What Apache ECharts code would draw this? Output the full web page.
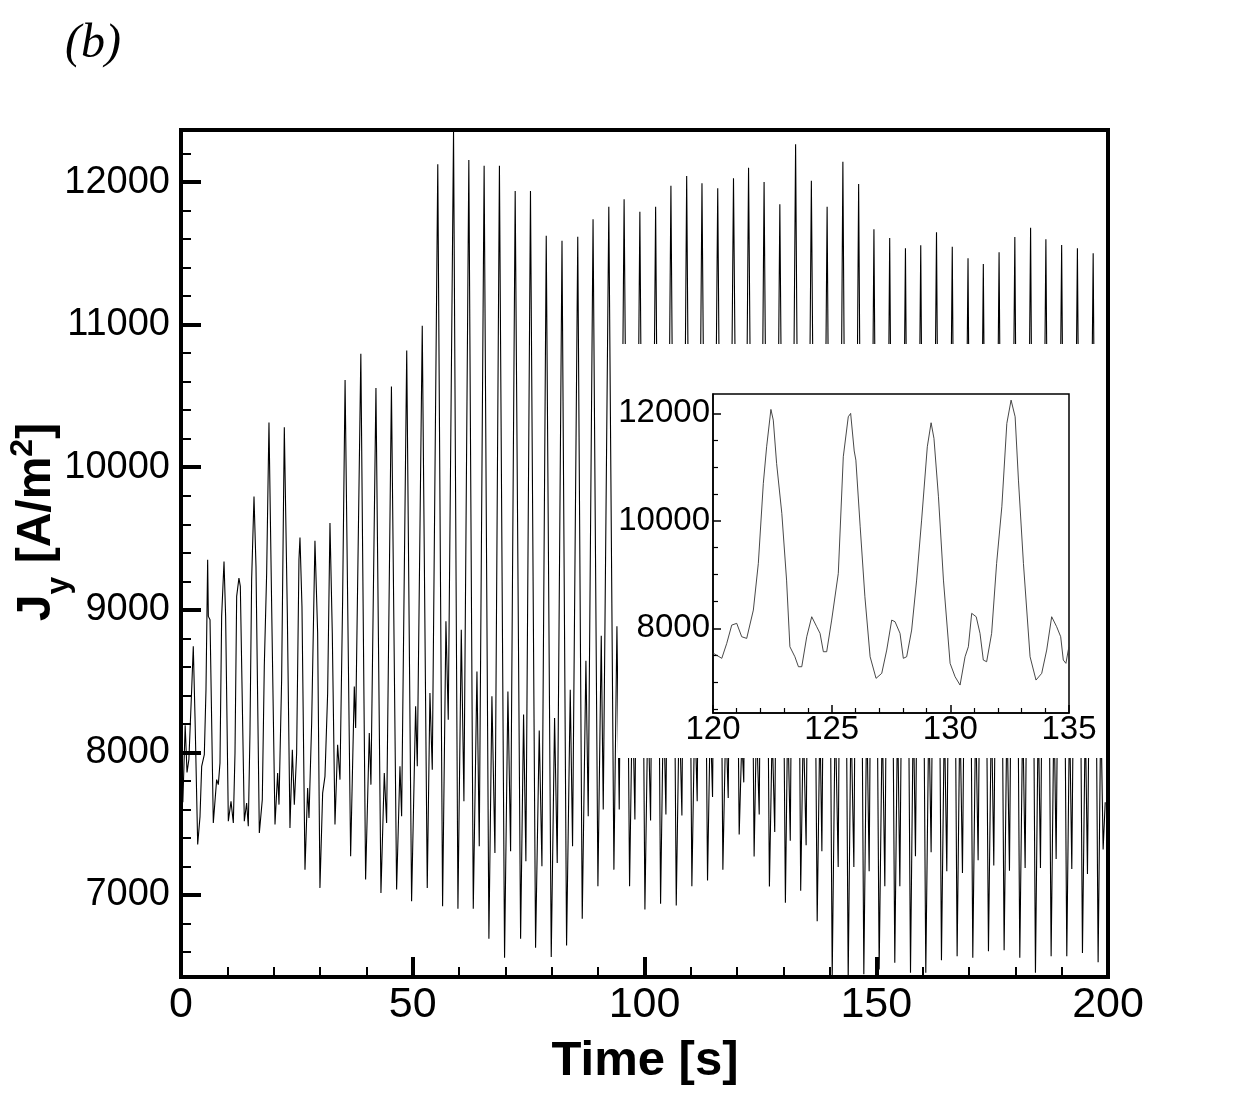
<!DOCTYPE html>
<html><head><meta charset="utf-8">
<script src="https://cdn.jsdelivr.net/npm/echarts@6/dist/echarts.min.js"></script>
<style>html,body{margin:0;padding:0;background:#fff}#c{width:1242px;height:1105px}</style>
</head><body><div id="c"></div>
<script>
// ---- main signal: values [time s, Jy A/m2] ----
const peaks = [[2.65,8744],[5.75,9351],[9.28,9339],[12.5,9223],[15.75,9795],[18.98,10313],[22.29,10281],[25.67,9507],[28.9,9484],[32.14,9608],[35.4,10612],[38.8,10795],[42.06,10556],[45.4,10566],[48.7,10818],[52.05,10993],[55.4,12124],[58.8,12360],[62.1,12154],[65.4,12114],[68.7,12114],[72.1,11937],[75.4,11937],[78.8,11624],[82.2,11589],[85.6,11617],[88.9,11739],[92.3,11827],[95.6,11879],[99.0,11792],[102.4,11827],[105.7,11974],[109.1,12042],[112.4,11991],[115.8,11956],[119.2,12026],[122.45,12100],[125.8,12000],[129.2,11845],[132.6,12265],[136.0,12009],[139.4,11827],[142.8,12142],[146.2,11986],[149.5,11669],[152.9,11608],[156.3,11535],[159.6,11556],[163.0,11648],[166.4,11547],[169.8,11465],[173.1,11425],[176.5,11507],[179.9,11615],[183.3,11680],[186.6,11598],[190.0,11558],[193.4,11535],[196.8,11500]];
const troughs = [[3.6,7354],[6.97,7505],[10.21,7517],[13.66,7517],[16.9,7435],[20.28,7494],[23.51,7470],[26.75,7178],[29.98,7050],[33.22,7494],[36.6,7272],[39.83,7108],[43.14,7015],[46.52,7038],[49.75,6956],[53.13,7050],[56.44,6922],[59.75,6903],[63.06,6903],[66.43,6693],[69.81,6560],[73.27,6693],[76.5,6630],[79.88,6566],[83.19,6646],[86.57,6833],[89.95,7062],[93.4,7178],[96.78,7062],[100.09,6898],[103.47,6938],[106.85,6926],[110.22,7062],[113.6,7101],[116.91,7178],[120.43,7424],[123.65,7270],[126.95,7060],[130.4,6945],[133.7,7030],[137.26,6816],[140.5,6430],[143.95,6410],[147.32,6445],[150.63,6478],[154.0,6525],[157.39,6455],[160.69,6455],[164.07,6543],[167.45,6571],[170.83,6560],[174.21,6606],[177.59,6613],[180.97,6560],[184.35,6455],[187.73,6571],[191.11,6571],[194.49,6594],[197.87,6529]];
const bumps = [[5.03,7984],[7.69,7809],[10.79,7657],[14.16,7645],[17.54,7669],[20.85,7856],[24.02,8019],[27.32,7750],[30.56,7715],[33.79,8054],[37.39,8463],[40.62,8136],[43.86,7856],[47.24,7903],[50.62,8323],[53.71,8417],[57.16,8919],[60.47,8860],[63.85,8568],[67.08,8393],[70.53,8428],[73.91,8265],[77.29,8153],[80.6,8241],[83.98,8440],[87.36,8643],[90.67,8818],[94.05,8884],[97.4,8420],[100.75,8350],[104.1,8380],[107.5,8330],[110.85,8300],[114.2,8260],[117.55,8240],[121.0,8093],[124.16,8216],[127.55,8154],[130.9,8279],[134.27,8216],[137.85,8250],[141.15,8300],[144.55,8280],[147.95,8320],[151.3,8260],[154.6,8300],[158.0,8340],[161.35,8300],[164.7,8270],[168.05,8310],[171.45,8290],[174.85,8330],[178.2,8300],[181.6,8280],[184.95,8300],[188.35,8340],[191.7,8290],[195.1,8270],[198.45,8320]];
const dips = [[8.05,7774],[11.29,7505],[14.52,7482],[21.14,7634],[24.45,7634],[27.61,7540],[34.3,7809],[37.68,8171],[40.98,7774],[44.36,7505],[47.6,7552],[50.98,7903],[54.21,7879],[57.66,8230],[61.04,7657],[64.35,7342],[67.73,7295],[71.11,7307],[74.41,7237],[77.87,7202],[81.17,7225],[84.48,7342],[87.86,7552],[91.1,7599],[94.55,7599],[97.93,7529],[101.31,7522],[104.62,7564],[108.07,7557],[111.37,7657],[114.68,7688],[118.06,7681],[121.42,7790],[124.75,7565],[128.1,7442],[131.45,7380],[134.87,7349],[138.27,7307],[141.79,7197],[145.17,7197],[148.47,7167],[151.85,7062],[155.09,7062],[158.46,7272],[161.84,7300],[165.22,7167],[168.6,7155],[171.98,7244],[175.36,7207],[178.74,7171],[182.12,7190],[185.43,7190],[188.81,7253],[192.19,7183],[195.57,7148],[198.95,7319]];
const shoulders = [[0,7900],[0.4,7650],[0.9,8190],[1.3,7860],[1.7,7950],[2.3,8440],[3.02,8253],[4.1,7550],[4.46,7902],[5.39,8440],[5.9,8954],[6.26,8930],[8.41,7926],[8.77,8954],[9.63,8954],[11.65,7996],[12.01,9094],[12.8,9164],[14.88,8136],[15.24,9210],[16.18,9304],[17.97,8603],[18.48,9257],[19.56,9024],[21.71,8510],[22.94,8977],[24.95,7996],[25.45,9351],[26.1,9024],[28.19,8206],[29.48,8837],[31.06,7832],[31.64,8416],[32.64,8837],[34.87,9070],[199.4,7650]];

// ---- inset signal (120-135 s) ----
const insetCurve = [[120.0,7540],[120.08,7535],[120.37,7442],[120.58,7721],[120.79,8061],[121.0,8093],[121.21,7844],[121.42,7813],[121.7,8340],[121.91,9209],[122.12,10697],[122.26,11378],[122.44,12073],[122.54,11874],[122.68,11069],[122.9,10139],[123.1,8898],[123.24,7658],[123.45,7472],[123.6,7286],[123.74,7286],[123.95,7844],[124.16,8216],[124.37,8030],[124.51,7907],[124.65,7565],[124.79,7565],[125.0,8154],[125.28,9023],[125.49,11192],[125.7,11936],[125.8,11999],[125.95,11300],[126.02,11130],[126.2,9900],[126.4,8588],[126.62,7472],[126.87,7070],[127.11,7163],[127.32,7596],[127.53,8154],[127.67,8123],[127.88,7907],[128.02,7442],[128.16,7472],[128.37,7968],[128.58,8898],[128.79,10014],[129.03,11378],[129.19,11825],[129.31,11534],[129.5,10448],[129.71,8898],[129.99,7349],[130.2,7100],[130.41,6945],[130.62,7472],[130.76,7658],[130.9,8279],[131.09,8216],[131.25,7907],[131.39,7410],[131.53,7379],[131.74,7907],[131.95,9209],[132.17,10262],[132.38,11812],[132.56,12246],[132.73,11936],[132.87,10758],[133.08,9209],[133.36,7472],[133.61,7038],[133.85,7163],[134.06,7596],[134.27,8216],[134.48,8030],[134.65,7844],[134.76,7410],[134.87,7349],[134.97,7596],[135.0,7650]];

// ---- tick values ----
const yMajorMain = [7000,8000,9000,10000,11000,12000];
const yMinorMain = [6600,6800,7200,7400,7600,7800,8200,8400,8600,8800,9200,9400,9600,9800,10200,10400,10600,10800,11200,11400,11600,11800,12200];
const yMajorInset = [8000,10000,12000];
const yMinorInset = [6500,7000,7500,8500,9000,9500,10500,11000,11500];

const mainData = [].concat(peaks, troughs, bumps, dips, shoulders).sort((a,b)=>a[0]-b[0]);

const FONT = '"Liberation Sans", Arial, Helvetica, sans-serif';
const chart = echarts.init(document.getElementById('c'), null, {renderer:'canvas', width:1242, height:1105});

const ctx = document.createElement('canvas').getContext('2d');
function tw(t,f){ctx.font=f;return ctx.measureText(t).width;}
const bigF = 'bold 48px ' + FONT, smF = 'bold 32px ' + FONT;
const parts = [
  {t:'J',f:bigF,fs:48,b:0},{t:'y',f:smF,fs:32,b:17},{t:' [A/m',f:bigF,fs:48,b:0},{t:'2',f:smF,fs:32,b:-19},{t:']',f:bigF,fs:48,b:0}
];
let total = parts.reduce((s,p)=>s+tw(p.t,p.f),0);
let cx = -total/2;
const titleChildren = parts.map(p=>{
  const el = {type:'text', x:cx, y:p.b - 0.347*p.fs, style:{text:p.t, font:p.f, fill:'#000', align:'left', textAlign:'left', verticalAlign:'middle', textVerticalAlign:'middle'}};
  cx += tw(p.t,p.f);
  return el;
});

const plain = v => String(v);
function axisCommon(){
  return {splitLine:{show:false}, minorSplitLine:{show:false}};
}

const option = {
  animation:false,
  backgroundColor:'#fff',
  grid:[
    {left:181, top:130, width:927, height:847, show:true, borderColor:'#000', borderWidth:4, backgroundColor:'transparent', z:8},
    {left:713, top:394, width:356, height:319, show:true, borderColor:'#000', borderWidth:1.5, backgroundColor:'transparent', z:8}
  ],
  xAxis:[
    Object.assign(axisCommon(), {gridIndex:0, type:'value', min:0, max:200, interval:50,
      axisLine:{lineStyle:{color:'#000', width:4}},
      axisTick:{inside:true, length:20, lineStyle:{width:4, color:'#000'}},
      minorTick:{show:true, splitNumber:5, length:10, lineStyle:{width:2, color:'#000'}},
      axisLabel:{fontSize:43, color:'#000', margin:7, fontFamily:FONT, showMinLabel:true, showMaxLabel:true, formatter:plain}}),
    Object.assign(axisCommon(), {gridIndex:1, type:'value', min:120, max:135, interval:5, z:9,
      axisLine:{lineStyle:{color:'#000', width:1.5}},
      axisTick:{inside:true, length:8, lineStyle:{width:1.5, color:'#000'}},
      minorTick:{show:true, splitNumber:5, length:5, lineStyle:{width:1.2, color:'#000'}},
      axisLabel:{fontSize:33, color:'#000', margin:0, fontFamily:FONT, showMinLabel:true, showMaxLabel:true, formatter:plain}})
  ],
  yAxis:[
    Object.assign(axisCommon(), {gridIndex:0, type:'value', min:6425, max:12365, position:'left',
      axisLine:{lineStyle:{color:'#000', width:4}},
      axisTick:{inside:true, length:20, customValues:yMajorMain, lineStyle:{width:4, color:'#000'}},
      axisLabel:{fontSize:38, color:'#000', margin:11, fontFamily:FONT, customValues:yMajorMain, formatter:plain}}),
    Object.assign(axisCommon(), {gridIndex:0, type:'value', min:6425, max:12365, position:'left', offset:0,
      axisLine:{show:false},
      axisTick:{inside:true, length:10, customValues:yMinorMain, lineStyle:{width:2, color:'#000'}},
      axisLabel:{show:false}}),
    Object.assign(axisCommon(), {gridIndex:1, type:'value', min:6425, max:12360, position:'left', z:9,
      axisLine:{lineStyle:{color:'#000', width:1.5}},
      axisTick:{inside:true, length:8, customValues:yMajorInset, lineStyle:{width:1.5, color:'#000'}},
      axisLabel:{fontSize:33, color:'#000', margin:3, fontFamily:FONT, customValues:yMajorInset, formatter:plain}}),
    Object.assign(axisCommon(), {gridIndex:1, type:'value', min:6425, max:12360, position:'left', offset:0, z:9,
      axisLine:{show:false},
      axisTick:{inside:true, length:5, customValues:yMinorInset, lineStyle:{width:1.2, color:'#000'}},
      axisLabel:{show:false}})
  ],
  series:[
    {type:'line', xAxisIndex:0, yAxisIndex:0, data:mainData, showSymbol:false, symbol:'none', clip:true, z:2,
     lineStyle:{color:'#000', width:1.1}, silent:true},
    {type:'line', xAxisIndex:1, yAxisIndex:2, data:insetCurve, showSymbol:false, symbol:'none', clip:true, z:9,
     lineStyle:{color:'#333', width:0.9}, silent:true}
  ],
  graphic:[
    {type:'rect', z:5, silent:true, shape:{x:618, y:344, width:489, height:414}, style:{fill:'#fff'}},
    {type:'text', z:10, x:65, y:44, style:{text:'(b)', font:'italic 48px "Liberation Serif", "Times New Roman", serif', fill:'#000', align:'left', textAlign:'left', verticalAlign:'middle', textVerticalAlign:'middle'}},
    {type:'text', z:10, x:645, y:1061, style:{text:'Time [s]', font:'bold 49px ' + FONT, fill:'#000', align:'center', textAlign:'center', verticalAlign:'middle', textVerticalAlign:'middle'}},
    {type:'group', z:10, x:53, y:522, rotation:Math.PI/2, children:titleChildren}
  ]
};
chart.setOption(option);
</script>
</body></html>
